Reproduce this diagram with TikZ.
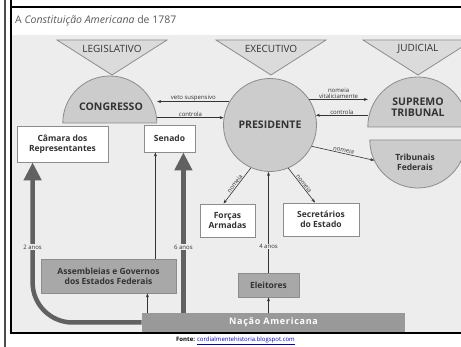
\documentclass[tikz,border=0pt]{standalone}
\usepackage{fontspec}
\setmainfont{Open Sans}
\usetikzlibrary{arrows.meta,calc}

\definecolor{bg}{gray}{0.93}
\definecolor{trifill}{gray}{0.86}
\definecolor{domefill}{gray}{0.80}
\definecolor{edge}{gray}{0.55}
\definecolor{darkbox}{gray}{0.66}
\definecolor{nation}{gray}{0.60}
\definecolor{thickarr}{gray}{0.38}
\definecolor{txt}{gray}{0.2}

\begin{document}
\begin{tikzpicture}[x=1pt,y=-1pt,
  box/.style={draw=edge,fill=white,line width=0.8pt,text=txt,align=center,inner sep=0pt,
    font=\fontsize{8.5}{10}\selectfont\bfseries},
  graybox/.style={box,fill=darkbox},
  branch/.style={text=txt,inner sep=0pt,font=\fontsize{10}{11}\selectfont},
  head/.style={text=txt,inner sep=0pt,align=center,font=\fontsize{10.5}{12}\selectfont\bfseries},
  tag/.style={text=txt,inner sep=0.6pt,align=center,font=\fontsize{6}{6.5}\selectfont},
  thin/.style={-{Stealth[length=4pt,width=3pt]},draw=txt,line width=0.6pt},
  big/.style={-{Triangle[length=18pt,width=17pt]},draw=thickarr,line width=4.5pt}]
  \useasboundingbox (0,0) rectangle (461,347);
  \clip (0,0) rectangle (461,347);
  % page and frame
  \fill[white] (0,0) rectangle (461,347);
  \fill[bg] (11,35) rectangle (461,332);
  \draw[line width=1.2pt,black!70] (5,0) -- (5,347);
  \draw[line width=2.5pt] (11,0) -- (11,333) -- (461,333);
  \draw[line width=2.5pt] (11,7) -- (461,7);
  \node[anchor=west,inner sep=0pt,text=black!65,font=\fontsize{10.5}{12}\selectfont] (title) at (15,21)
    {A \textit{Constituição Americana} de 1787};
  % the three powers
  \foreach \cx/\lab in {112/LEGISLATIVO,271/EXECUTIVO,418/JUDICIAL}{
    \draw[draw=edge,fill=trifill,line width=0.8pt] (\cx-55,40) -- (\cx+55,40) -- (\cx,75) -- cycle;
    \node[branch] (power-\cx) at (\cx,48.5) {\lab};
  }
  % congresso (dome)
  \node[circle,minimum size=94pt,inner sep=0pt] (cong) at (110,123) {};
  \draw[draw=edge,fill=domefill,line width=0.8pt] (cong.west) arc[start angle=180,end angle=0,radius=47pt] -- cycle;
  \node[head] (congtxt) at (111,107) {CONGRESSO};
  % presidente
  \node[circle,draw=edge,fill=domefill,line width=0.8pt,minimum size=93pt,inner sep=0pt] (pres) at (270,125) {};
  \node[head] (prestxt) at (pres.center) {PRESIDENTE};
  % supremo tribunal (dome)
  \node[circle,minimum size=100pt,inner sep=0pt] (sup) at (418,127) {};
  \draw[draw=edge,fill=domefill,line width=0.8pt] (sup.west) arc[start angle=180,end angle=0,radius=50pt] -- cycle;
  \node[head] (suptxt) at (418,107) {SUPREMO\\[-1pt]TRIBUNAL};
  % tribunais federais (bowl)
  \node[circle,minimum size=96pt,inner sep=0pt] (trib) at (418,140) {};
  \draw[draw=edge,fill=domefill,line width=0.8pt] (trib.west) arc[start angle=180,end angle=360,radius=48pt] -- cycle;
  \node[box,draw=none,fill=none] (tribtxt) at (415,162) {Tribunais\\Federais};
  % boxes
  \node[box,minimum width=91pt,minimum height=36pt] (cam) at (62.5,144) {Câmara dos\\Representantes};
  \node[box,minimum width=51pt,minimum height=27pt] (sen) at (169.5,138.5) {Senado};
  \node[box,minimum width=55pt,minimum height=33pt] (forcas) at (227.5,220.5) {Forças\\Armadas};
  \node[box,minimum width=76pt,minimum height=33pt] (secr) at (321,219.5) {Secretários\\do Estado};
  \node[graybox,minimum width=135pt,minimum height=34pt] (assem) at (108.5,276) {Assembleias e Governos\\dos Estados Federais};
  \node[graybox,minimum width=61pt,minimum height=24pt] (eleit) at (268.5,285) {Eleitores};
  \node[box,draw=none,fill=nation,text=white,minimum width=263pt,minimum height=19pt,
    font=\fontsize{9}{10}\selectfont\bfseries\addfontfeature{LetterSpace=8}] (nacao) at (273.5,322.5) {Nação Americana};
  % between congresso and presidente
  \draw[thin] (pres.150) -- node[tag,above] {veto suspensivo} (pres.150 -| cong.east);
  \draw[thin] (pres.171 -| cong.east) -- node[tag,above] {controla} (pres.171);
  % between presidente and the courts
  \draw[thin] (pres.33) -- node[tag,above] {nomeia\\[-1pt]vitaliciamente} (pres.33 -| sup.west);
  \draw[thin] (pres.12 -| sup.west) -- node[tag,above] {controla} (pres.12);
  \draw[thin] (pres.-27) -- node[tag,above,sloped] {nomeia} (trib.205);
  \draw[thin] (pres.-114) -- node[tag,above,sloped] {nomeia} ([xshift=-4pt]forcas.north);
  \draw[thin] (pres.-67) -- node[tag,above,sloped] {nomeia} ([xshift=-6pt]secr.north);
  % elections
  \draw[thin] (eleit.north) -- node[tag,fill=bg,pos=0.26] {4 anos} (eleit.north |- pres.south);
  \draw[thin] (eleit.south |- nacao.north) -- (eleit.south);
  \coordinate (a1) at ($(assem.south east)+(-29,0)$);
  \draw[thin] (a1 |- nacao.north) -- (a1);
  \coordinate (a2) at ($(assem.north east)+(-21,0)$);
  \draw[thin] (a2) -- (a2 |- sen.south);
  % thick arrows from the nation
  \coordinate (c2) at ($(cam.south west)+(16,0)$);
  \draw[big,rounded corners=40pt] (nacao.west) -| (c2);
  \node[tag,fill=bg] (two) at (c2 |- 0,247) {2 anos};
  \coordinate (c6) at ($(sen.south east)+(-12,0)$);
  \draw[big] (c6 |- nacao.north) -- (c6);
  \node[tag,fill=bg] (six) at (c6 |- 0,247) {6 anos};
  % source
  \node[anchor=west,inner sep=0pt,font=\fontsize{6}{7}\selectfont] (fonte) at (176,341)
    {\textbf{Fonte:} \textcolor{blue!80!black}{\underline{cordialmentehistoria.blogspot.com}}};
\end{tikzpicture}
\end{document}
